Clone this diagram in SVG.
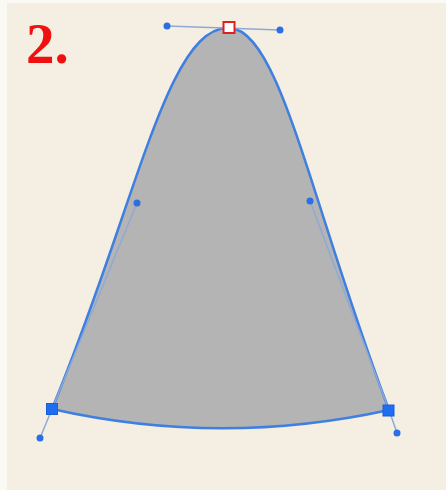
<svg xmlns="http://www.w3.org/2000/svg" width="446" height="490" viewBox="0 0 446 490">
<style>
.handle{stroke:#8fa9d6;stroke-width:1.5;fill:none}
.dot{fill:#2a6fe6}
.anchor{fill:#1f6ef2;stroke:#1a5fd6;stroke-width:1}
</style>
<rect width="446" height="490" fill="#fbf9f4"/>
<rect x="7" y="3" width="439" height="487" fill="#f4efe2"/>
<text x="26" y="63" font-family="Liberation Serif, serif" font-weight="bold" font-size="57" fill="#f01010">2.</text>
<g id="shape">
<path d="M52,409 C137,203 167,26 229,28 C280,29 310,201 389,410 Q220,447 52,409 Z" fill="#b4b4b4" stroke="#3f7fe0" stroke-width="2.5" stroke-linejoin="round"/>
</g>
<g id="connectors">
<line class="handle" x1="167" y1="26" x2="280" y2="30"/>
<line class="handle" x1="52" y1="409" x2="137" y2="203"/>
<line class="handle" x1="389" y1="410" x2="310" y2="201"/>
<line class="handle" x1="52" y1="409" x2="40" y2="438"/>
<line class="handle" x1="389" y1="410" x2="397" y2="433"/>
</g>
<g id="handles">
<circle class="dot" cx="167" cy="26" r="3.5"/>
<circle class="dot" cx="280" cy="30" r="3.5"/>
<circle class="dot" cx="137" cy="203" r="3.5"/>
<circle class="dot" cx="310" cy="201" r="3.5"/>
<circle class="dot" cx="40" cy="438" r="3.5"/>
<circle class="dot" cx="397" cy="433" r="3.5"/>
</g>
<g id="anchor-top"><rect x="223.5" y="22" width="11" height="11" fill="#ffffff" stroke="#e02020" stroke-width="2"/></g>
<g id="anchor-left"><rect class="anchor" x="46.5" y="403.5" width="11" height="11"/></g>
<g id="anchor-right"><rect class="anchor" x="383" y="405" width="11" height="11"/></g>
</svg>
